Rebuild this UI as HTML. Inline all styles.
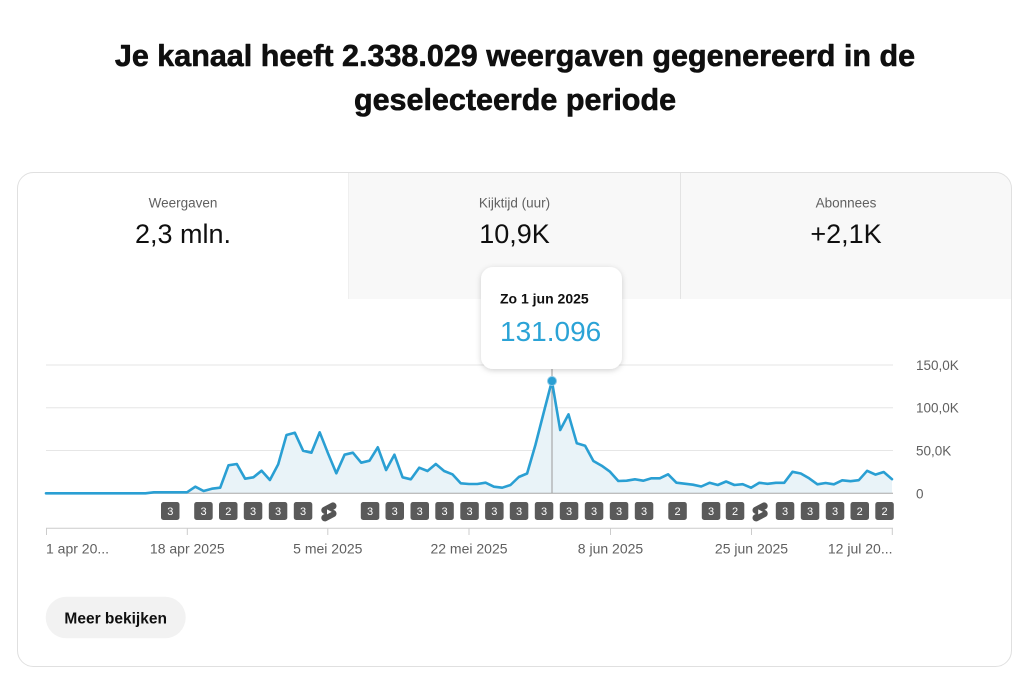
<!DOCTYPE html>
<html>
<head>
<meta charset="utf-8">
<style>
  html,body{margin:0;padding:0;background:#fff;}
  body{width:1031px;height:682px;overflow:hidden;position:relative;font-family:"Liberation Sans",sans-serif;}
  svg{position:absolute;left:0;top:0;}
  text{font-family:"Liberation Sans",sans-serif;}
</style>
</head>
<body>
<svg width="1031" height="682" viewBox="0 0 1031 682" xmlns="http://www.w3.org/2000/svg">
  <defs>
    <clipPath id="card">
      <rect x="17.5" y="172.5" width="994" height="494" rx="16" ry="16"/>
    </clipPath>
    <filter id="sh" x="-20%" y="-20%" width="140%" height="150%">
      <feDropShadow dx="0" dy="1.5" stdDeviation="3" flood-color="#000" flood-opacity="0.18"/>
    </filter>
    <g id="shorts">
      <path fill-rule="evenodd" fill="#555" d="M10 14.65v-5.3L15 12l-5 2.65zm7.77-4.33c-.77-.32-1.2-.5-1.2-.5L18 9.06c1.84-.96 2.53-3.23 1.56-5.06s-3.24-2.53-5.07-1.56L6 6.940c-1.29.68-2.07 2.04-2 3.49.07 1.42.93 2.67 2.22 3.25.03.01 1.2.5 1.2.5L6 14.93c-1.83.97-2.53 3.24-1.56 5.07.97 1.83 3.24 2.53 5.07 1.56l8.5-4.5c1.29-.68 2.06-2.04 1.99-3.49-.07-1.42-.94-2.68-2.23-3.25z"/>
    </g>
  </defs>

  <!-- Title -->
  <g stroke="#0f0f0f" stroke-width="0.6" stroke-linejoin="round">
  <text x="515" y="66" text-anchor="middle" font-size="30.5" font-weight="bold" fill="#0f0f0f">Je kanaal heeft 2.338.029 weergaven gegenereerd in de</text>
  <text x="515" y="110" text-anchor="middle" font-size="30.5" font-weight="bold" fill="#0f0f0f">geselecteerde periode</text>
  </g>

  <!-- Card -->
  <rect x="17.5" y="172.5" width="994" height="494" rx="16" ry="16" fill="#fff"/>
  <g clip-path="url(#card)">
    <rect x="349" y="172" width="663" height="127" fill="#f8f8f8"/>
    <line x1="680.5" y1="172" x2="680.5" y2="299" stroke="#e3e3e3" stroke-width="1"/>
    <line x1="348.5" y1="172" x2="348.5" y2="299" stroke="#efefef" stroke-width="1"/>
  </g>
  <rect x="17.5" y="172.5" width="994" height="494" rx="16" ry="16" fill="none" stroke="#e0e0e0" stroke-width="1"/>

  <!-- Tabs -->
  <text x="183" y="207.5" text-anchor="middle" font-size="13.5" fill="#606060">Weergaven</text>
  <text x="183" y="243" text-anchor="middle" font-size="27" fill="#0f0f0f">2,3 mln.</text>
  <text x="514.5" y="207.5" text-anchor="middle" font-size="13.5" fill="#606060">Kijktijd (uur)</text>
  <text x="514.5" y="243" text-anchor="middle" font-size="27" fill="#0f0f0f">10,9K</text>
  <text x="846" y="207.5" text-anchor="middle" font-size="13.5" fill="#606060">Abonnees</text>
  <text x="846" y="243" text-anchor="middle" font-size="27" fill="#0f0f0f">+2,1K</text>

  <!-- Gridlines -->
  <g stroke="#e6e6e6" stroke-width="1">
    <line x1="46" y1="365" x2="893" y2="365"/>
    <line x1="46" y1="407.7" x2="893" y2="407.7"/>
    <line x1="46" y1="450.5" x2="893" y2="450.5"/>
  </g>

  <!-- Y labels -->
  <g font-size="13.5" fill="#606060">
    <text x="916" y="370">150,0K</text>
    <text x="916" y="412.7">100,0K</text>
    <text x="916" y="455.5">50,0K</text>
    <text x="916" y="498.3">0</text>
  </g>

  <!-- Area -->
  <polygon fill="#e9f3f8" points="46.0,493.3 54.3,493.3 62.6,493.3 70.9,493.3 79.2,493.3 87.5,493.3 95.8,493.3 104.1,493.3 112.4,493.3 120.6,493.3 128.9,493.3 137.2,493.3 145.5,493.3 153.8,492.3 162.1,492.3 170.4,492.3 178.7,492.3 187.0,492.3 195.3,486.7 203.6,491 211.9,488.7 220.2,487.7 228.5,465.3 236.8,464 245.1,478.7 253.4,477.3 261.6,470.7 269.9,480 278.2,464.3 286.5,435 294.8,432.7 303.1,450.7 311.4,452.7 319.7,432.3 328.0,453.3 336.3,473.3 344.6,454.7 352.9,452.7 361.2,462.7 369.5,460.7 377.8,447.3 386.1,470 394.4,454.7 402.6,477.3 410.9,479.3 419.2,467.7 427.5,471 435.8,464 444.1,471 452.4,474.3 460.7,483.3 469.0,484 477.3,484 485.6,482.7 493.9,486.7 502.2,487.7 510.5,485 518.8,477 527.1,473.5 535.4,445 543.6,413 551.9,381 560.2,430 568.5,414.3 576.8,443.3 585.1,445.7 593.4,461 601.7,465.7 610.0,471.7 618.3,481 626.6,480.7 634.9,479.3 643.2,480.7 651.5,478.3 659.8,478.3 668.1,474.3 676.4,482.7 684.6,483.7 692.9,484.7 701.2,486.5 709.5,482.8 717.8,485 726.1,481.5 734.4,485 742.7,484.2 751.0,487.7 759.3,482.8 767.6,483.8 775.9,482.8 784.2,482.8 792.5,471.8 800.8,473.5 809.1,478.3 817.4,484.3 825.6,483 833.9,484.3 842.2,480.3 850.5,481.2 858.8,480.2 867.1,470.8 875.4,474.6 883.7,472 892.0,479.2 892.0,493.3 46.0,493.3"/>

  <!-- Zero line -->
  <line x1="46" y1="493.3" x2="893" y2="493.3" stroke="#a8a8a8" stroke-width="1"/>

  <!-- Crosshair -->
  <line x1="552" y1="368" x2="552" y2="493" stroke="#9a9a9a" stroke-width="1"/>

  <!-- Line -->
  <polyline fill="none" stroke="#2a9fd3" stroke-width="2.6" stroke-linejoin="round" stroke-linecap="round" points="46.0,493.3 54.3,493.3 62.6,493.3 70.9,493.3 79.2,493.3 87.5,493.3 95.8,493.3 104.1,493.3 112.4,493.3 120.6,493.3 128.9,493.3 137.2,493.3 145.5,493.3 153.8,492.3 162.1,492.3 170.4,492.3 178.7,492.3 187.0,492.3 195.3,486.7 203.6,491 211.9,488.7 220.2,487.7 228.5,465.3 236.8,464 245.1,478.7 253.4,477.3 261.6,470.7 269.9,480 278.2,464.3 286.5,435 294.8,432.7 303.1,450.7 311.4,452.7 319.7,432.3 328.0,453.3 336.3,473.3 344.6,454.7 352.9,452.7 361.2,462.7 369.5,460.7 377.8,447.3 386.1,470 394.4,454.7 402.6,477.3 410.9,479.3 419.2,467.7 427.5,471 435.8,464 444.1,471 452.4,474.3 460.7,483.3 469.0,484 477.3,484 485.6,482.7 493.9,486.7 502.2,487.7 510.5,485 518.8,477 527.1,473.5 535.4,445 543.6,413 551.9,381 560.2,430 568.5,414.3 576.8,443.3 585.1,445.7 593.4,461 601.7,465.7 610.0,471.7 618.3,481 626.6,480.7 634.9,479.3 643.2,480.7 651.5,478.3 659.8,478.3 668.1,474.3 676.4,482.7 684.6,483.7 692.9,484.7 701.2,486.5 709.5,482.8 717.8,485 726.1,481.5 734.4,485 742.7,484.2 751.0,487.7 759.3,482.8 767.6,483.8 775.9,482.8 784.2,482.8 792.5,471.8 800.8,473.5 809.1,478.3 817.4,484.3 825.6,483 833.9,484.3 842.2,480.3 850.5,481.2 858.8,480.2 867.1,470.8 875.4,474.6 883.7,472 892.0,479.2"/>

  <!-- Peak dot -->
  <circle cx="552" cy="381" r="4.5" fill="#2a9fd3" stroke="#8fcbe8" stroke-width="1"/>

  <!-- Badges -->
  <g font-size="11" fill="#fff" text-anchor="middle">
    <g fill="#5a5a5a">
      <rect x="161" y="502" width="18.5" height="18" rx="2.5"/>
      <rect x="194.2" y="502" width="18.5" height="18" rx="2.5"/>
      <rect x="219" y="502" width="18.5" height="18" rx="2.5"/>
      <rect x="243.8" y="502" width="18.5" height="18" rx="2.5"/>
      <rect x="268.8" y="502" width="18.5" height="18" rx="2.5"/>
      <rect x="293.8" y="502" width="18.5" height="18" rx="2.5"/>
      <rect x="360.8" y="502" width="18.5" height="18" rx="2.5"/>
      <rect x="385.5" y="502" width="18.5" height="18" rx="2.5"/>
      <rect x="410.5" y="502" width="18.5" height="18" rx="2.5"/>
      <rect x="435.3" y="502" width="18.5" height="18" rx="2.5"/>
      <rect x="460.3" y="502" width="18.5" height="18" rx="2.5"/>
      <rect x="485.1" y="502" width="18.5" height="18" rx="2.5"/>
      <rect x="509.8" y="502" width="18.5" height="18" rx="2.5"/>
      <rect x="534.8" y="502" width="18.5" height="18" rx="2.5"/>
      <rect x="559.8" y="502" width="18.5" height="18" rx="2.5"/>
      <rect x="584.8" y="502" width="18.5" height="18" rx="2.5"/>
      <rect x="609.8" y="502" width="18.5" height="18" rx="2.5"/>
      <rect x="634.8" y="502" width="18.5" height="18" rx="2.5"/>
      <rect x="668.3" y="502" width="18.5" height="18" rx="2.5"/>
      <rect x="701.8" y="502" width="18.5" height="18" rx="2.5"/>
      <rect x="725.8" y="502" width="18.5" height="18" rx="2.5"/>
      <rect x="775.8" y="502" width="18.5" height="18" rx="2.5"/>
      <rect x="800.8" y="502" width="18.5" height="18" rx="2.5"/>
      <rect x="825.8" y="502" width="18.5" height="18" rx="2.5"/>
      <rect x="850.5" y="502" width="18.5" height="18" rx="2.5"/>
      <rect x="875.3" y="502" width="18.5" height="18" rx="2.5"/>
    </g>
    <text x="170.3" y="515">3</text>
    <text x="203.5" y="515">3</text>
    <text x="228.3" y="515">2</text>
    <text x="253" y="515">3</text>
    <text x="278" y="515">3</text>
    <text x="303" y="515">3</text>
    <text x="370" y="515">3</text>
    <text x="394.7" y="515">3</text>
    <text x="419.7" y="515">3</text>
    <text x="444.5" y="515">3</text>
    <text x="469.5" y="515">3</text>
    <text x="494.3" y="515">3</text>
    <text x="519" y="515">3</text>
    <text x="544" y="515">3</text>
    <text x="569" y="515">3</text>
    <text x="594" y="515">3</text>
    <text x="619" y="515">3</text>
    <text x="644" y="515">3</text>
    <text x="677.5" y="515">2</text>
    <text x="711" y="515">3</text>
    <text x="735" y="515">2</text>
    <text x="785" y="515">3</text>
    <text x="810" y="515">3</text>
    <text x="835" y="515">3</text>
    <text x="859.7" y="515">2</text>
    <text x="884.5" y="515">2</text>
  </g>
  <!-- Shorts icons -->
  <g transform="translate(317.5,500.5) scale(0.95)"><use href="#shorts"/></g>
  <g transform="translate(748.7,500.5) scale(0.95)"><use href="#shorts"/></g>

  <!-- X axis -->
  <line x1="46" y1="528.3" x2="893" y2="528.3" stroke="#cccccc" stroke-width="1"/>
  <g stroke="#cccccc" stroke-width="1">
    <line x1="46.5" y1="528" x2="46.5" y2="535"/>
    <line x1="187.3" y1="528" x2="187.3" y2="535"/>
    <line x1="327.8" y1="528" x2="327.8" y2="535"/>
    <line x1="469" y1="528" x2="469" y2="535"/>
    <line x1="610.5" y1="528" x2="610.5" y2="535"/>
    <line x1="751.5" y1="528" x2="751.5" y2="535"/>
    <line x1="892.3" y1="528" x2="892.3" y2="535"/>
  </g>
  <g font-size="14" fill="#606060">
    <text x="46" y="553.3">1 apr 20...</text>
    <text x="187.3" y="553.3" text-anchor="middle">18 apr 2025</text>
    <text x="327.8" y="553.3" text-anchor="middle">5 mei 2025</text>
    <text x="469" y="553.3" text-anchor="middle">22 mei 2025</text>
    <text x="610.5" y="553.3" text-anchor="middle">8 jun 2025</text>
    <text x="751.5" y="553.3" text-anchor="middle">25 jun 2025</text>
    <text x="892.5" y="553.3" text-anchor="end">12 jul 20...</text>
  </g>

  <!-- Tooltip -->
  <rect x="481" y="267" width="141" height="102" rx="12" ry="12" fill="#fff" filter="url(#sh)"/>
  <text x="500" y="303.3" font-size="14" font-weight="bold" fill="#0f0f0f">Zo 1 jun 2025</text>
  <text x="500" y="341" font-size="28" fill="#2ba3d6">131.096</text>

  <!-- Button -->
  <rect x="45.7" y="596.7" width="140" height="41.6" rx="20.8" ry="20.8" fill="#f2f2f2"/>
  <text x="115.7" y="623.3" text-anchor="middle" font-size="15.5" font-weight="bold" fill="#0f0f0f">Meer bekijken</text>
</svg>
</body>
</html>
